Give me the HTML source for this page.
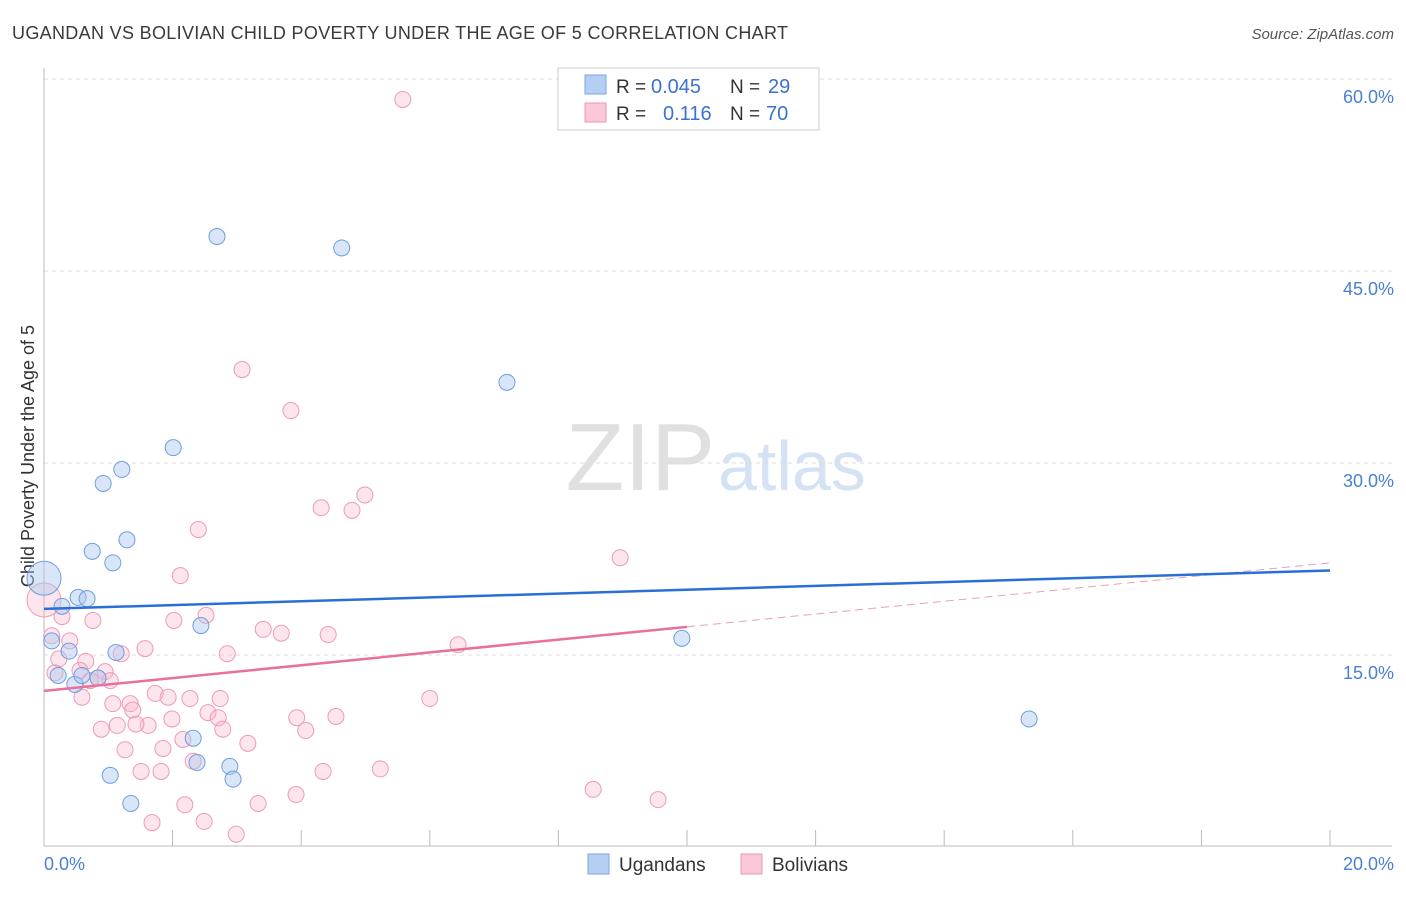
<!DOCTYPE html>
<html><head><meta charset="utf-8">
<style>
body{margin:0;background:#fff;font-family:"Liberation Sans",sans-serif;}
svg text{font-family:"Liberation Sans",sans-serif;}
</style></head>
<body>
<svg width="1406" height="892" viewBox="0 0 1406 892">
<text x="12" y="39" font-size="18" fill="#3a3a3a" textLength="776">UGANDAN VS BOLIVIAN CHILD POVERTY UNDER THE AGE OF 5 CORRELATION CHART</text>
<text x="1394" y="39" font-size="15" fill="#555" text-anchor="end" font-style="italic">Source: ZipAtlas.com</text>
<text x="715" y="490" font-size="96" fill="#e0e0e0" text-anchor="end" font-family="Liberation Serif">ZIP</text>
<text x="718" y="490" font-size="70" fill="#d4e2f4">atlas</text>
<g id="grid"></g>
<line x1="44" y1="68" x2="44" y2="846" stroke="#bbb"/>
<line x1="44" y1="846" x2="1392" y2="846" stroke="#bbb"/>
<g id="xticks"></g>
<g id="ylabels"></g>
<text x="44" y="870" font-size="18" fill="#4a7fd4">0.0%</text>
<text x="1394" y="870" font-size="18" fill="#4a7fd4" text-anchor="end">20.0%</text>
<text transform="translate(34,456) rotate(-90)" font-size="18" fill="#333" text-anchor="middle">Child Poverty Under the Age of 5</text>
<g id="pts"></g>
<g id="trends"></g>
<g>
<rect x="558" y="68" width="261" height="62" fill="#fff" stroke="#ccc"/>
<rect x="585" y="75" width="21" height="19" fill="#b5cff3" stroke="#7aa6e6"/>
<rect x="585" y="103" width="21" height="19" fill="#fbc8d8" stroke="#ee94b2"/>
<text x="616" y="93" font-size="19" fill="#333">R =</text>
<text x="651" y="93" font-size="20" fill="#3a73d0">0.045</text>
<text x="730" y="93" font-size="19" fill="#333">N =</text>
<text x="768" y="93" font-size="20" fill="#3a73d0">29</text>
<text x="616" y="120" font-size="19" fill="#333">R =</text>
<text x="663" y="120" font-size="20" fill="#3a73d0">0.116</text>
<text x="730" y="120" font-size="19" fill="#333">N =</text>
<text x="766" y="120" font-size="20" fill="#3a73d0">70</text>
</g>
<g>
<rect x="588" y="854" width="21" height="20" fill="#b5cff3" stroke="#7aa6e6"/>
<text x="619" y="871" font-size="19" fill="#333">Ugandans</text>
<rect x="741" y="854" width="21" height="20" fill="#fbc8d8" stroke="#ee94b2"/>
<text x="772" y="871" font-size="19" fill="#333">Bolivians</text>
</g>
</svg>
<script>
const yTicks=[15,30,45,60];
const yTickLabels=["15.0%","30.0%","45.0%","60.0%"];
const xTicks=[2,4,6,8,10,12,14,16,18,20];
const ugX=[2.69,4.63,7.20,2.01,1.21,0.92,1.29,0.75,1.07,0,0.53,0.67,0.28,0.12,0.39,1.12,2.44,9.92,0.22,0.48,0.84,0.59,2.32,2.38,2.89,2.94,1.03,1.35,15.32];
const ugY=[47.7,46.8,36.3,31.2,29.5,28.4,24.0,23.1,22.2,21.0,19.5,19.4,18.8,16.1,15.3,15.2,17.3,16.3,13.4,12.7,13.2,13.4,8.5,6.6,6.3,5.3,5.6,3.4,10.0];
const boX=[5.58,3.08,3.84,4.99,4.31,4.79,2.40,8.96,2.12,2.52,2.02,3.41,3.69,4.42,0.76,0.28,0.12,0.40,1.57,6.44,2.85,1.20,0.23,0.65,0.56,0.95,0.84,1.03,0.17,0.72,0.59,1.73,1.93,2.27,2.74,6.00,1.07,1.34,1.38,2.55,1.99,2.71,3.93,4.54,0.89,1.62,1.14,1.43,2.78,2.16,4.07,3.17,1.26,1.85,2.32,1.51,1.82,4.34,5.23,8.54,3.92,3.33,2.19,9.55,1.68,2.49,2.99,0];
const boY=[58.4,37.3,34.1,27.5,26.5,26.3,24.8,22.6,21.2,18.1,17.7,17.0,16.7,16.6,17.7,18.0,16.5,16.1,15.5,15.8,15.1,15.1,14.7,14.5,13.8,13.7,13.2,13.0,13.6,13.0,11.7,12.0,11.7,11.6,11.6,11.6,11.2,11.2,10.7,10.5,10.0,10.1,10.1,10.2,9.2,9.5,9.5,9.6,9.2,8.4,9.1,8.1,7.6,7.7,6.7,5.9,5.9,5.9,6.1,4.5,4.1,3.4,3.3,3.7,1.9,2.0,1.0,19.3];
const ugTrend=[18.6,21.6];
const boTrend=[12.2,22.2];
const NS="http://www.w3.org/2000/svg";
const sx=v=>44+v*64.3, sy=v=>847-v*12.8;
function mk(tag,attrs,parent){const e=document.createElementNS(NS,tag);for(const k in attrs)e.setAttribute(k,attrs[k]);document.getElementById(parent).appendChild(e);return e;}
yTicks.forEach((t,i)=>{
 const g=mk('line',{x1:44,x2:1392,y1:sy(t),y2:sy(t),stroke:'#ddd','stroke-dasharray':'4,4'},'grid');
 
 
 const l=mk('text',{x:1394,y:sy(t)+24,'font-size':18,fill:'#4a7fd4','text-anchor':'end'},'ylabels');
 l.textContent=yTickLabels[i];
 
 
});
xTicks.forEach(t=>{
 const e=mk('line',{x1:sx(t),x2:sx(t),y1:830,y2:846,stroke:'#bbb'},'xticks');
 
 
});
boX.forEach((x,i)=>{
 const big=i===boX.length-1;
 const c=mk('circle',{cx:sx(x),cy:sy(boY[i]),r:big?17:8,fill:'rgba(248,180,204,0.35)',stroke:'#ee9ab6','stroke-width':1},'pts');
 
 
});
ugX.forEach((x,i)=>{
 const big=i===9;
 const c=mk('circle',{cx:sx(x),cy:sy(ugY[i]),r:big?17:8,fill:'rgba(170,200,240,0.45)',stroke:'#6e9edf','stroke-width':1},'pts');
 
 
});
const bm=(boTrend[1]-boTrend[0])/20;
let e=mk('line',{x1:sx(0),y1:sy(boTrend[0]),x2:sx(10),y2:sy(boTrend[0]+bm*10),stroke:'#e8709a','stroke-width':2.5},'trends');


e=mk('line',{x1:sx(10),y1:sy(boTrend[0]+bm*10),x2:sx(20),y2:sy(boTrend[1]),stroke:'#e8a0b8','stroke-width':1,'stroke-dasharray':'8,5'},'trends');


e=mk('line',{x1:sx(0),y1:sy(ugTrend[0]),x2:sx(20),y2:sy(ugTrend[1]),stroke:'#2a6fd6','stroke-width':2.5},'trends');


</script>
</body></html>
